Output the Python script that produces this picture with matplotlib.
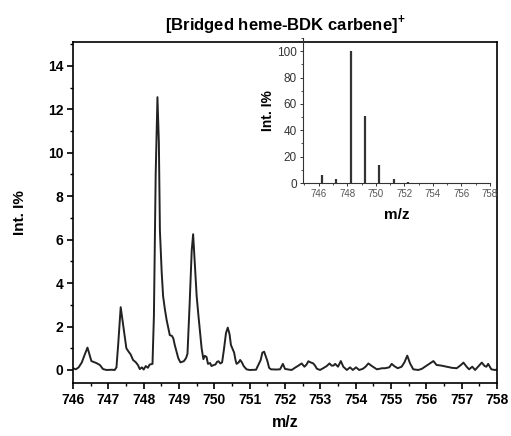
import matplotlib
matplotlib.use("Agg")
import matplotlib.pyplot as plt
from matplotlib.ticker import MultipleLocator

plt.rcParams['font.family'] = ['Liberation Sans', 'DejaVu Sans']
plt.rcParams['mathtext.fontset'] = 'custom'
plt.rcParams['mathtext.rm'] = 'Liberation Sans'
plt.rcParams['mathtext.bf'] = 'Liberation Sans:bold'

# Measured spectrum (m/z, relative intensity %)
mz = [746.00, 746.08, 746.16, 746.25, 746.33, 746.41, 746.46, 746.52, 746.60, 746.66,
      746.76, 746.85, 746.95, 747.10, 747.18, 747.23, 747.28, 747.35, 747.40, 747.44,
      747.51, 747.57, 747.63, 747.70, 747.78, 747.84, 747.89, 747.95, 748.00, 748.06,
      748.12, 748.17, 748.25, 748.29, 748.34, 748.39, 748.43, 748.46, 748.51, 748.55,
      748.60, 748.65, 748.70, 748.74, 748.80, 748.84, 748.88, 748.93, 748.98, 749.04,
      749.10, 749.14, 749.20, 749.24, 749.30, 749.36, 749.40, 749.45, 749.50, 749.55,
      749.59, 749.64, 749.69, 749.73, 749.78, 749.82, 749.88, 749.92, 749.97, 750.03,
      750.08, 750.12, 750.17, 750.22, 750.27, 750.33, 750.38, 750.43, 750.47, 750.52,
      750.56, 750.60, 750.63, 750.69, 750.73, 750.78, 750.83, 750.91, 751.00, 751.18,
      751.25, 751.31, 751.36, 751.41, 751.45, 751.50, 751.55, 751.60, 751.75, 751.86,
      751.94, 752.00, 752.10, 752.19, 752.28, 752.38, 752.47, 752.55, 752.61, 752.66,
      752.71, 752.80, 752.85, 752.90, 752.99, 753.08, 753.18, 753.26, 753.32, 753.37,
      753.42, 753.50, 753.58, 753.65, 753.75, 753.84, 753.92, 754.01, 754.10, 754.20,
      754.28, 754.36, 754.46, 754.60, 754.75, 754.83, 754.95, 755.02, 755.09, 755.19,
      755.30, 755.38, 755.46, 755.54, 755.63, 755.77, 755.87, 756.01, 756.10, 756.20,
      756.29, 756.43, 756.57, 756.72, 756.86, 756.98, 757.05, 757.14, 757.21, 757.30,
      757.38, 757.49, 757.57, 757.65, 757.70, 757.75, 757.84, 757.94, 758.00]
intensity = [0.08, 0.03, 0.12, 0.35, 0.70, 1.03, 0.75, 0.41, 0.36, 0.32,
             0.23, 0.04, 0.00, 0.01, 0.00, 0.12, 1.20, 2.89, 2.30, 1.80,
             1.00, 0.85, 0.72, 0.46, 0.35, 0.22, 0.04, 0.12, 0.02, 0.18,
             0.10, 0.25, 0.28, 2.50, 9.00, 12.56, 10.50, 6.40, 4.50, 3.40,
             2.80, 2.30, 1.90, 1.60, 1.57, 1.45, 1.15, 0.85, 0.54, 0.35,
             0.38, 0.41, 0.55, 0.75, 3.00, 5.50, 6.25, 4.80, 3.40, 2.50,
             1.84, 1.00, 0.50, 0.65, 0.60, 0.28, 0.32, 0.18, 0.22, 0.25,
             0.38, 0.40, 0.30, 0.35, 0.92, 1.70, 1.95, 1.65, 1.15, 0.95,
             0.80, 0.45, 0.28, 0.35, 0.46, 0.35, 0.18, 0.03, 0.00, 0.01,
             0.25, 0.45, 0.80, 0.84, 0.65, 0.42, 0.10, 0.03, 0.02, 0.03,
             0.28, 0.05, 0.02, 0.00, 0.10, 0.20, 0.30, 0.15, 0.25, 0.40,
             0.36, 0.30, 0.20, 0.06, 0.00, 0.08, 0.18, 0.30, 0.20, 0.20,
             0.28, 0.15, 0.41, 0.15, 0.00, 0.12, 0.00, 0.12, 0.00, 0.05,
             0.15, 0.30, 0.18, 0.03, 0.08, 0.08, 0.12, 0.28, 0.18, 0.08,
             0.15, 0.35, 0.66, 0.30, 0.03, 0.00, 0.05, 0.20, 0.30, 0.41,
             0.23, 0.20, 0.15, 0.10, 0.08, 0.23, 0.34, 0.15, 0.03, 0.15,
             0.00, 0.20, 0.34, 0.18, 0.15, 0.28, 0.03, 0.00, 0.02]

# Simulated isotope pattern (stick spectrum)
iso_mz = [746.24, 747.24, 748.24, 749.24, 750.24, 751.24, 752.24]
iso_int = [6, 3, 100, 51, 14, 3, 0.5]

W, H = 511, 436
fig = plt.figure(figsize=(W / 100, H / 100), dpi=100)

ax = fig.add_axes([73 / W, 1 - 383 / H, (497 - 73) / W, (383 - 42) / H])
ax.plot(mz, intensity, color='#222222', lw=1.4)
ax.set_xlim(746, 758)
ax.set_ylim(-0.6, 15.1)
ax.xaxis.set_major_locator(MultipleLocator(1))
ax.xaxis.set_minor_locator(MultipleLocator(0.5))
ax.yaxis.set_major_locator(MultipleLocator(2))
ax.yaxis.set_minor_locator(MultipleLocator(1))
ax.tick_params(which='major', direction='out', length=4, width=1.2,
               labelsize=10, pad=3)
ax.tick_params(which='minor', direction='out', length=2.5, width=1.0)
for lab in ax.get_xticklabels() + ax.get_yticklabels():
    lab.set_fontweight('bold')
for sp in ax.spines.values():
    sp.set_linewidth(1.2)
ax.set_xlabel('m/z', fontsize=11.5, fontweight='bold', labelpad=6)
ax.set_ylabel('Int. I%', fontsize=11, fontweight='bold', labelpad=15)
ax.set_title(r'[Bridged heme-BDK carbene]$^{\mathbf{+}}$', fontsize=12,
             fontweight='bold', pad=9)

ins = fig.add_axes([303 / W, 1 - 183 / H, (490 - 303) / W, (183 - 38) / H])
ins.patch.set_alpha(0)
ins.vlines(iso_mz, 0, iso_int, color='#333333', lw=1.6)
ins.set_xlim(744.9, 758)
ins.set_ylim(0, 110)
ins.spines['top'].set_visible(False)
ins.spines['right'].set_visible(False)
for sp in ('left', 'bottom'):
    ins.spines[sp].set_linewidth(0.8)
    ins.spines[sp].set_color('#333333')
ins.xaxis.set_major_locator(MultipleLocator(2))
ins.xaxis.set_minor_locator(MultipleLocator(1))
ins.yaxis.set_major_locator(MultipleLocator(20))
ins.yaxis.set_minor_locator(MultipleLocator(10))
ins.tick_params(which='major', direction='out', length=2.5, width=0.7,
                colors='#333333', pad=2)
ins.tick_params(which='minor', direction='out', length=1.5, width=0.6,
                colors='#333333')
ins.tick_params(axis='x', labelsize=7, labelcolor='#555555')
ins.tick_params(axis='y', labelsize=8.5, labelcolor='#333333')
ins.set_xlabel('m/z', fontsize=11, fontweight='bold', labelpad=6)
ins.set_ylabel('Int. I%', fontsize=10, fontweight='bold', labelpad=1)

fig.savefig('out.png', dpi=100)
